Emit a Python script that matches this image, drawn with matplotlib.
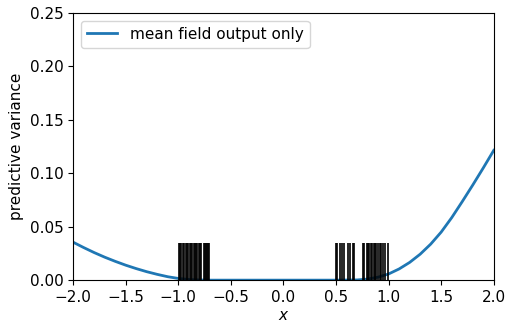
import matplotlib
matplotlib.use("Agg")
import matplotlib.pyplot as plt

# predictive variance curve
x_grid = [-2.0, -1.9, -1.8, -1.7, -1.6, -1.5, -1.4, -1.3, -1.2, -1.1, -1.0,
          -0.9, -0.8, -0.7, -0.5, 0.0, 0.5, 0.7, 0.8, 0.9, 1.0, 1.1, 1.2, 1.3,
          1.4, 1.5, 1.6, 1.7, 1.8, 1.9, 2.0]
variance = [0.0355, 0.0305, 0.0258, 0.0215, 0.0176, 0.0140, 0.0108, 0.0079, 0.0054,
            0.0032, 0.0016, 0.0006, 0.0002, 0.0, 0.0, 0.0, 0.0, 0.0002, 0.0010,
            0.0028, 0.0058, 0.0105, 0.0166, 0.0243, 0.0337, 0.0450, 0.0585,
            0.0735, 0.0890, 0.1050, 0.1215]

# training inputs (rug)
x_train = [-0.99, -0.98, -0.97, -0.96, -0.95, -0.93, -0.92, -0.91, -0.89, -0.88,
           -0.87, -0.85, -0.84, -0.83, -0.82, -0.80, -0.79, -0.78, -0.76, -0.75,
           -0.74, -0.73, -0.72, -0.71,
           0.50, 0.51, 0.54, 0.56, 0.58, 0.61, 0.63, 0.66, 0.67,
           0.76, 0.77, 0.79, 0.80, 0.81, 0.83, 0.84, 0.86, 0.87, 0.88, 0.90,
           0.92, 0.93, 0.95, 0.97, 0.99]
rug_height = 0.035

plt.rcParams["font.size"] = 11

fig = plt.figure(figsize=(5.08, 3.25), dpi=100)
ax = fig.add_axes([0.144, 0.138, 0.828, 0.822])

ax.plot(x_grid, variance, color="#1f77b4", lw=2, label="mean field output only")
ax.vlines(x_train, 0, rug_height, color="black", lw=1.2)

ax.set_xlim(-2, 2)
ax.set_ylim(0, 0.25)
ax.set_xlabel("$x$", labelpad=2)
ax.set_ylabel("predictive variance")
ax.legend(loc="upper left")

fig.savefig("out.png", dpi=100)
